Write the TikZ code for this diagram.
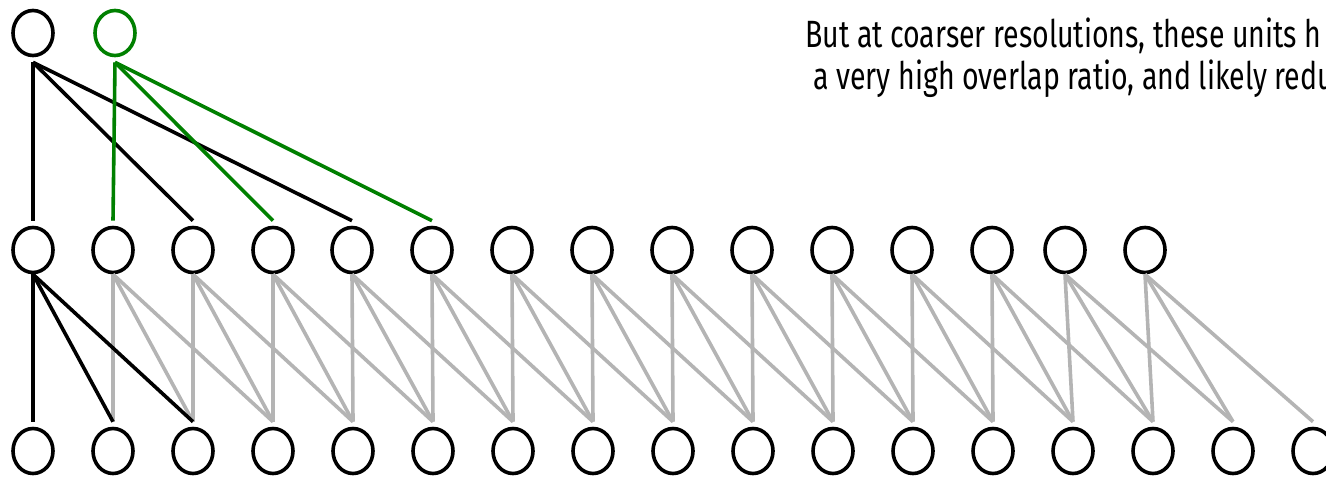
\documentclass[tikz,border=0pt]{standalone}
\usepackage{fontspec}
\newfontfamily\notefont[FakeStretch=0.75]{Fira Sans}
\usetikzlibrary{shapes.geometric}
\definecolor{kgreen}{RGB}{0,128,0}
\definecolor{kgray}{RGB}{180,180,180}

\begin{document}
\begin{tikzpicture}[x=0.5pt,y=-0.5pt,
  unit/.style={draw,ellipse,line width=1.8pt,minimum width=20pt,
  minimum height=22.5pt,inner sep=0pt},
  link/.style={line width=1.8pt,kgray},
  note/.style={font=\notefont\fontsize{19}{21}\selectfont,inner sep=0pt,anchor=base west}]
\useasboundingbox (0,0) rectangle (1326,477);
\clip (0,0) rectangle (1326,477);
% units
\node[unit] (t0) at (33,33) {};
\node[unit,draw=kgreen] (t1) at (115,33) {};
\foreach \x [count=\i from 0] in {33,113,193,273,352,432,512,592,672,752,832,912,992,1065,1145}
  \node[unit] (m\i) at (\x,250) {};
\foreach \i in {0,...,16}
  \node[unit] (b\i) at (33+80*\i,451) {};
% lower connections
\foreach \i in {1,...,14}
  \foreach \k in {0,1,2}{
    \pgfmathtruncatemacro\j{\i+\k}
    \draw[link] (m\i.south) -- ([yshift=2.5pt]b\j.north);
  }
\foreach \j in {0,1,2}
  \draw[link,black] (m0.south) -- ([yshift=2.5pt]b\j.north);
% upper connections
\foreach \j in {0,2,4}
  \draw[link,black] ([yshift=-2.5pt]t0.south) -- ([yshift=2.5pt]m\j.north);
\foreach \j in {1,3,5}
  \draw[link,kgreen] ([yshift=-2.5pt]t1.south) -- ([yshift=2.5pt]m\j.north);
% text
\node[note] (note1) at (805,47) {But at coarser resolutions, these units h};
\node[note] (note2) at (813,89) {a very high overlap ratio, and likely redu};
\end{tikzpicture}
\end{document}
